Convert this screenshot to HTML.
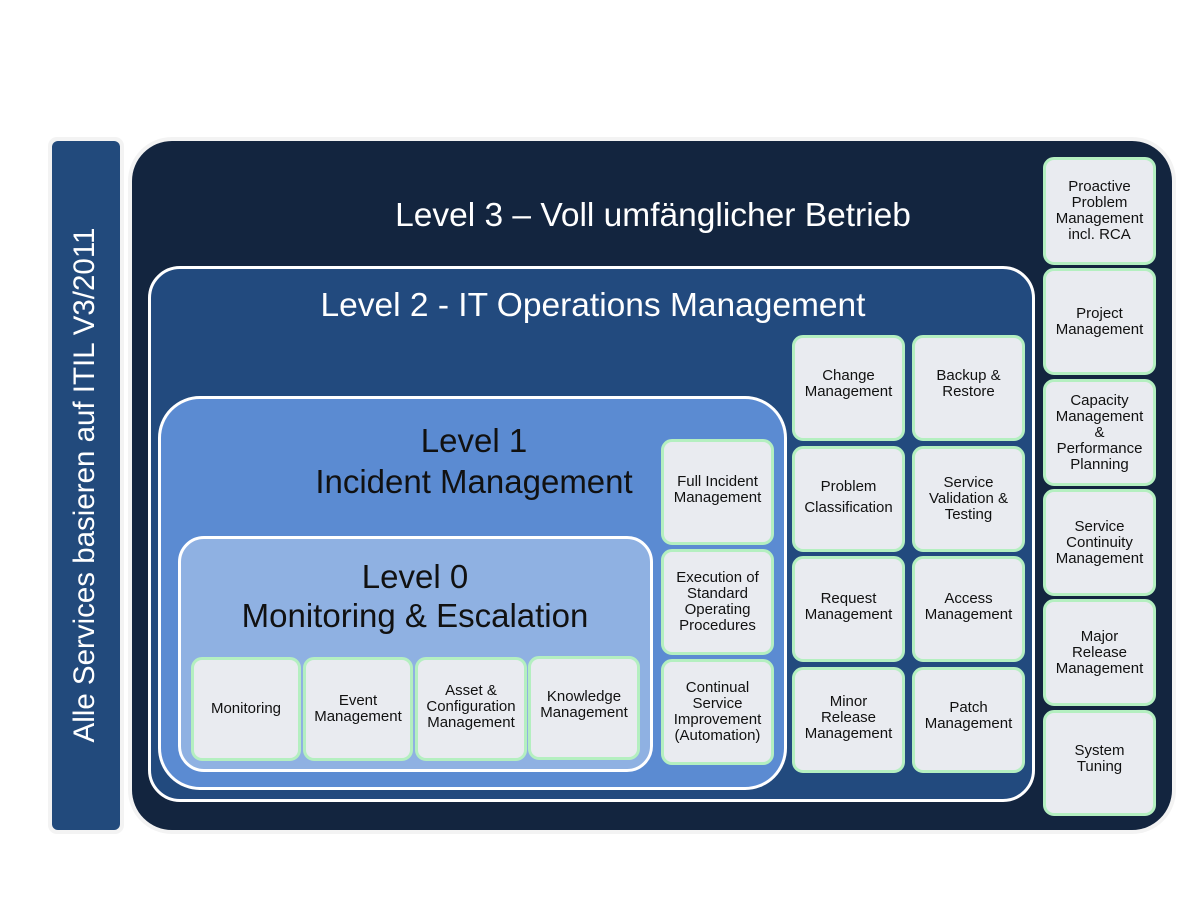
<!DOCTYPE html>
<html><head><meta charset="utf-8"><style>
body{margin:0;width:1204px;height:903px;background:#fff;position:relative;overflow:hidden;font-family:"Liberation Sans",sans-serif}
.a{position:absolute;box-sizing:border-box}
.c{position:absolute;box-sizing:border-box;background:#e9ebf0;border:3px solid #b4efc0;border-radius:11px;display:flex;align-items:center;justify-content:center;text-align:center;font-size:15px;line-height:16px;color:#111}
.t{position:absolute;color:#fff;text-align:center;white-space:nowrap}
</style></head><body>
<div class="a" style="left:48px;top:137px;width:76px;height:697px;background:#f3f3f3;border-radius:9px"></div>
<div class="a" style="left:52px;top:141px;width:68px;height:689px;background:#224a7c;border-radius:6px"></div>
<div class="t" style="left:85px;top:485px;transform:translate(-50%,-50%) rotate(-90deg);font-size:29.5px;color:#fff">Alle Services basieren auf ITIL V3/2011</div>

<div class="a" style="left:128px;top:137px;width:1048px;height:697px;background:#f3f3f3;border-radius:44px"></div>
<div class="a" style="left:132px;top:141px;width:1040px;height:689px;background:#13253f;border-radius:40px"></div>
<div class="t" style="left:653px;top:197px;transform:translateX(-50%);font-size:33.5px">Level 3 – Voll umfänglicher Betrieb</div>

<div class="a" style="left:148px;top:266px;width:887px;height:536px;background:#224a7e;border:3px solid #fff;border-radius:32px"></div>
<div class="t" style="left:593px;top:287px;transform:translateX(-50%);font-size:33.5px">Level 2 - IT Operations Management</div>

<div class="a" style="left:158px;top:396px;width:629px;height:394px;background:#5b8bd2;border:3px solid #fff;border-radius:42px"></div>
<div class="t" style="left:474px;top:420px;transform:translateX(-50%);font-size:33px;color:#111;line-height:41px">Level 1<br>Incident Management</div>

<div class="a" style="left:178px;top:536px;width:475px;height:236px;background:#8fb1e2;border:3px solid #fff;border-radius:26px"></div>
<div class="t" style="left:415px;top:557px;transform:translateX(-50%);font-size:33px;color:#111;line-height:39px">Level 0<br>Monitoring &amp; Escalation</div>

<div class="c" style="left:191px;top:657px;width:110px;height:104px">Monitoring</div>
<div class="c" style="left:303px;top:657px;width:110px;height:104px">Event<br>Management</div>
<div class="c" style="left:415px;top:657px;width:112px;height:104px;padding-bottom:4px">Asset &amp;<br>Configuration<br>Management</div>
<div class="c" style="left:528px;top:656px;width:112px;height:104px;padding-bottom:6px">Knowledge<br>Management</div>

<div class="c" style="left:661px;top:439px;width:113px;height:106px;padding-bottom:4px">Full Incident<br>Management</div>
<div class="c" style="left:661px;top:549px;width:113px;height:106px">Execution of<br>Standard<br>Operating<br>Procedures</div>
<div class="c" style="left:661px;top:659px;width:113px;height:106px">Continual<br>Service<br>Improvement<br>(Automation)</div>

<div class="c" style="left:792px;top:335px;width:113px;height:106px;padding-bottom:8px">Change<br>Management</div>
<div class="c" style="left:912px;top:335px;width:113px;height:106px;padding-bottom:8px">Backup &amp;<br>Restore</div>
<div class="c" style="left:792px;top:446px;width:113px;height:106px;line-height:21px;padding-bottom:4px">Problem<br>Classification</div>
<div class="c" style="left:912px;top:446px;width:113px;height:106px">Service<br>Validation &amp;<br>Testing</div>
<div class="c" style="left:792px;top:556px;width:113px;height:106px;padding-bottom:4px">Request<br>Management</div>
<div class="c" style="left:912px;top:556px;width:113px;height:106px;padding-bottom:4px">Access<br>Management</div>
<div class="c" style="left:792px;top:667px;width:113px;height:106px;padding-bottom:4px">Minor<br>Release<br>Management</div>
<div class="c" style="left:912px;top:667px;width:113px;height:106px;padding-bottom:8px">Patch<br>Management</div>

<div class="c" style="left:1043px;top:157px;width:113px;height:108px">Proactive<br>Problem<br>Management<br>incl. RCA</div>
<div class="c" style="left:1043px;top:268px;width:113px;height:107px">Project<br>Management</div>
<div class="c" style="left:1043px;top:379px;width:113px;height:107px">Capacity<br>Management<br>&amp;<br>Performance<br>Planning</div>
<div class="c" style="left:1043px;top:489px;width:113px;height:107px">Service<br>Continuity<br>Management</div>
<div class="c" style="left:1043px;top:599px;width:113px;height:107px">Major<br>Release<br>Management</div>
<div class="c" style="left:1043px;top:710px;width:113px;height:106px;padding-bottom:8px">System<br>Tuning</div>
</body></html>
